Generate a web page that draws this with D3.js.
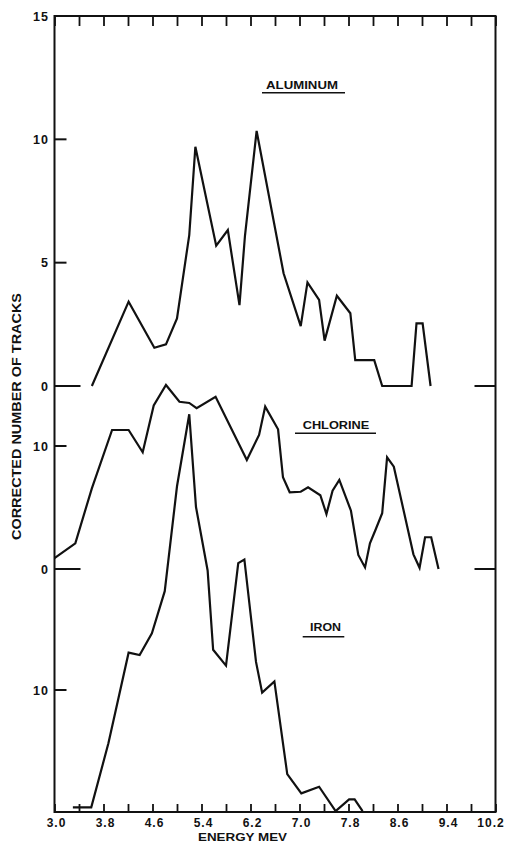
<!DOCTYPE html>
<html>
<head>
<meta charset="utf-8">
<script src="https://cdn.jsdelivr.net/npm/d3@7"></script>
<style>
  body { margin: 0; background: #fff; }
  svg { display: block; }
  text { font-family: "Liberation Sans", Arial, sans-serif; font-weight: bold; fill: #111; }
</style>
</head>
<body>
<div id="chart"></div>
<script>
// energy (MeV) and corrected track counts
var aluminumEnergy = [3.61, 4.21, 4.63, 4.82, 5.00, 5.20, 5.30, 5.64, 5.83, 6.02, 6.11, 6.30, 6.74, 7.02, 7.13, 7.32, 7.41, 7.61, 7.83, 7.91, 8.22, 8.35, 8.83, 8.91, 9.01, 9.14];
var aluminumTracks = [0, 3.42, 1.55, 1.69, 2.74, 6.12, 9.70, 5.69, 6.32, 3.28, 6.1, 10.34, 4.57, 2.43, 4.2, 3.49, 1.84, 3.66, 2.95, 1.05, 1.05, 0, 0, 2.54, 2.54, 0];

var chlorineEnergy = [3.0, 3.34, 3.61, 3.94, 4.21, 4.44, 4.62, 4.82, 5.04, 5.20, 5.32, 5.63, 6.14, 6.34, 6.44, 6.65, 6.73, 6.84, 7.02, 7.14, 7.34, 7.44, 7.54, 7.65, 7.84, 7.96, 8.07, 8.15, 8.24, 8.35, 8.43, 8.54, 8.86, 8.96, 9.05, 9.15, 9.27];
var chlorineTracks = [0.89, 2.09, 6.56, 11.3, 11.3, 9.49, 13.3, 14.96, 13.6, 13.5, 13.07, 14.0, 8.86, 10.9, 13.2, 11.36, 7.46, 6.24, 6.28, 6.64, 6.0, 4.47, 6.37, 7.24, 4.74, 1.14, 0.13, 2.09, 3.17, 4.53, 9.08, 8.32, 1.19, 0.1, 2.58, 2.58, 0];

var ironEnergy = [3.30, 3.60, 3.88, 4.21, 4.39, 4.59, 4.80, 5.00, 5.20, 5.31, 5.50, 5.59, 5.80, 6.00, 6.10, 6.29, 6.39, 6.59, 6.80, 7.03, 7.32, 7.59, 7.81, 7.90, 8.03];
var ironTracks = [0.38, 0.38, 5.63, 13.06, 12.87, 14.65, 18.1, 26.7, 32.6, 25.0, 19.8, 13.3, 12.0, 20.4, 20.7, 12.3, 9.78, 10.7, 3.11, 1.53, 2.07, 0.08, 1.04, 1.04, 0.08];

// axis ticks
var energyTicks = [3.0, 3.4, 3.8, 4.2, 4.6, 5.0, 5.4, 5.8, 6.2, 6.6, 7.0, 7.4, 7.8, 8.2, 8.6, 9.0, 9.4, 9.8, 10.2];
var energyLabels = ["3.0", "3.8", "4.6", "5.4", "6.2", "7.0", "7.8", "8.6", "9.4", "10.2"];
var aluminumTicks = [0, 5, 10, 15];
var chlorineTicks = [0, 10];
var ironTicks = [10];

var width = 507, height = 842;
var plotLeft = 54.5, plotRight = 495.5, plotTop = 16, plotBottom = 812;

var svg = d3.select("#chart").append("svg")
  .attr("width", width).attr("height", height);

var x = d3.scaleLinear().domain([3.0, 10.2]).range([plotLeft, plotRight]);
var yAl = d3.scaleLinear().domain([0, 15]).range([386, plotTop]);
var yCl = d3.scaleLinear().domain([0, 10]).range([569, 446]);
var yFe = d3.scaleLinear().domain([0, 10]).range([plotBottom, 690]);

// bottom axis with inward ticks, labels every 0.8
var xAxis = d3.axisBottom(x)
  .tickValues(energyTicks)
  .tickSizeInner(-8).tickSizeOuter(0).tickPadding(6)
  .tickFormat(function(d) {
    var s = d3.format(".1f")(d);
    return energyLabels.indexOf(s) > -1 ? s : "";
  });
var gx = svg.append("g").attr("transform", "translate(0," + plotBottom + ")").call(xAxis);
gx.select(".domain").remove();
gx.selectAll("line").attr("stroke", "#111").attr("stroke-width", 1.8);
gx.selectAll("text")
  .attr("font-size", 12).attr("fill", "#111")
  .attr("dx", function(d) { return d > 10 ? -5 : 1.5; })
  .attr("font-family", "'Liberation Sans', Arial, sans-serif").attr("font-weight", "bold")
  .style("letter-spacing", "1px");

var xTop = d3.axisTop(x).tickValues(energyTicks).tickSizeInner(-10).tickSizeOuter(0).tickFormat("");
var gt = svg.append("g").attr("transform", "translate(0," + plotTop + ")").call(xTop);
gt.select(".domain").remove();
gt.selectAll("line").attr("stroke", "#111").attr("stroke-width", 1.8);

// frame
svg.append("rect")
  .attr("x", plotLeft).attr("y", plotTop)
  .attr("width", plotRight - plotLeft).attr("height", plotBottom - plotTop)
  .attr("fill", "none").attr("stroke", "#111").attr("stroke-width", 2);

// left ticks for each panel, zero baselines longer and repeated on the right
function yTicks(scale, values) {
  values.forEach(function(v) {
    var yy = scale(v);
    svg.append("line")
      .attr("x1", plotLeft).attr("x2", plotLeft + (v === 0 ? 26 : 12))
      .attr("y1", yy).attr("y2", yy)
      .attr("stroke", "#111").attr("stroke-width", 2);
    if (v === 0) {
      svg.append("line")
        .attr("x1", plotRight - 21).attr("x2", plotRight)
        .attr("y1", yy).attr("y2", yy)
        .attr("stroke", "#111").attr("stroke-width", 2);
    }
    svg.append("text")
      .attr("x", 49).attr("y", yy).attr("dy", "0.36em")
      .attr("text-anchor", "end").attr("font-size", 12.5)
      .style("letter-spacing", "1px")
      .text(v);
  });
}
yTicks(yAl, aluminumTicks);
yTicks(yCl, chlorineTicks);
yTicks(yFe, ironTicks);

// curves
function curve(energy, tracks, scale) {
  var pts = energy.map(function(e, i) { return [e, tracks[i]]; });
  var line = d3.line()
    .x(function(d) { return x(d[0]); })
    .y(function(d) { return scale(d[1]); });
  svg.append("path")
    .datum(pts)
    .attr("d", line)
    .attr("fill", "none")
    .attr("stroke", "#111")
    .attr("stroke-width", 2.2)
    .attr("stroke-linejoin", "miter");
}
curve(aluminumEnergy, aluminumTracks, yAl);
curve(chlorineEnergy, chlorineTracks, yCl);
curve(ironEnergy, ironTracks, yFe);

// element names, underlined
function label(name, x0, y0, len, ux1, ux2, uy) {
  svg.append("text")
    .attr("x", x0).attr("y", y0)
    .attr("font-size", 11)
    .attr("textLength", len).attr("lengthAdjust", "spacingAndGlyphs")
    .text(name);
  svg.append("line")
    .attr("x1", ux1).attr("x2", ux2).attr("y1", uy).attr("y2", uy)
    .attr("stroke", "#111").attr("stroke-width", 1.6);
}
label("ALUMINUM", 266, 89, 72, 262, 345, 92.7);
label("CHLORINE", 302.7, 429.3, 66.6, 295, 376, 433.3);
label("IRON", 310, 631, 31, 302.7, 344.3, 636.7);

// axis titles
svg.append("text")
  .attr("transform", "translate(20.7,416.5) rotate(-90)")
  .attr("text-anchor", "middle")
  .attr("font-size", 13)
  .attr("textLength", 247).attr("lengthAdjust", "spacingAndGlyphs")
  .text("CORRECTED NUMBER OF TRACKS");

svg.append("text")
  .attr("x", 198).attr("y", 840.5)
  .attr("font-size", 11)
  .attr("textLength", 89).attr("lengthAdjust", "spacingAndGlyphs")
  .text("ENERGY  MEV");
</script>
</body>
</html>
